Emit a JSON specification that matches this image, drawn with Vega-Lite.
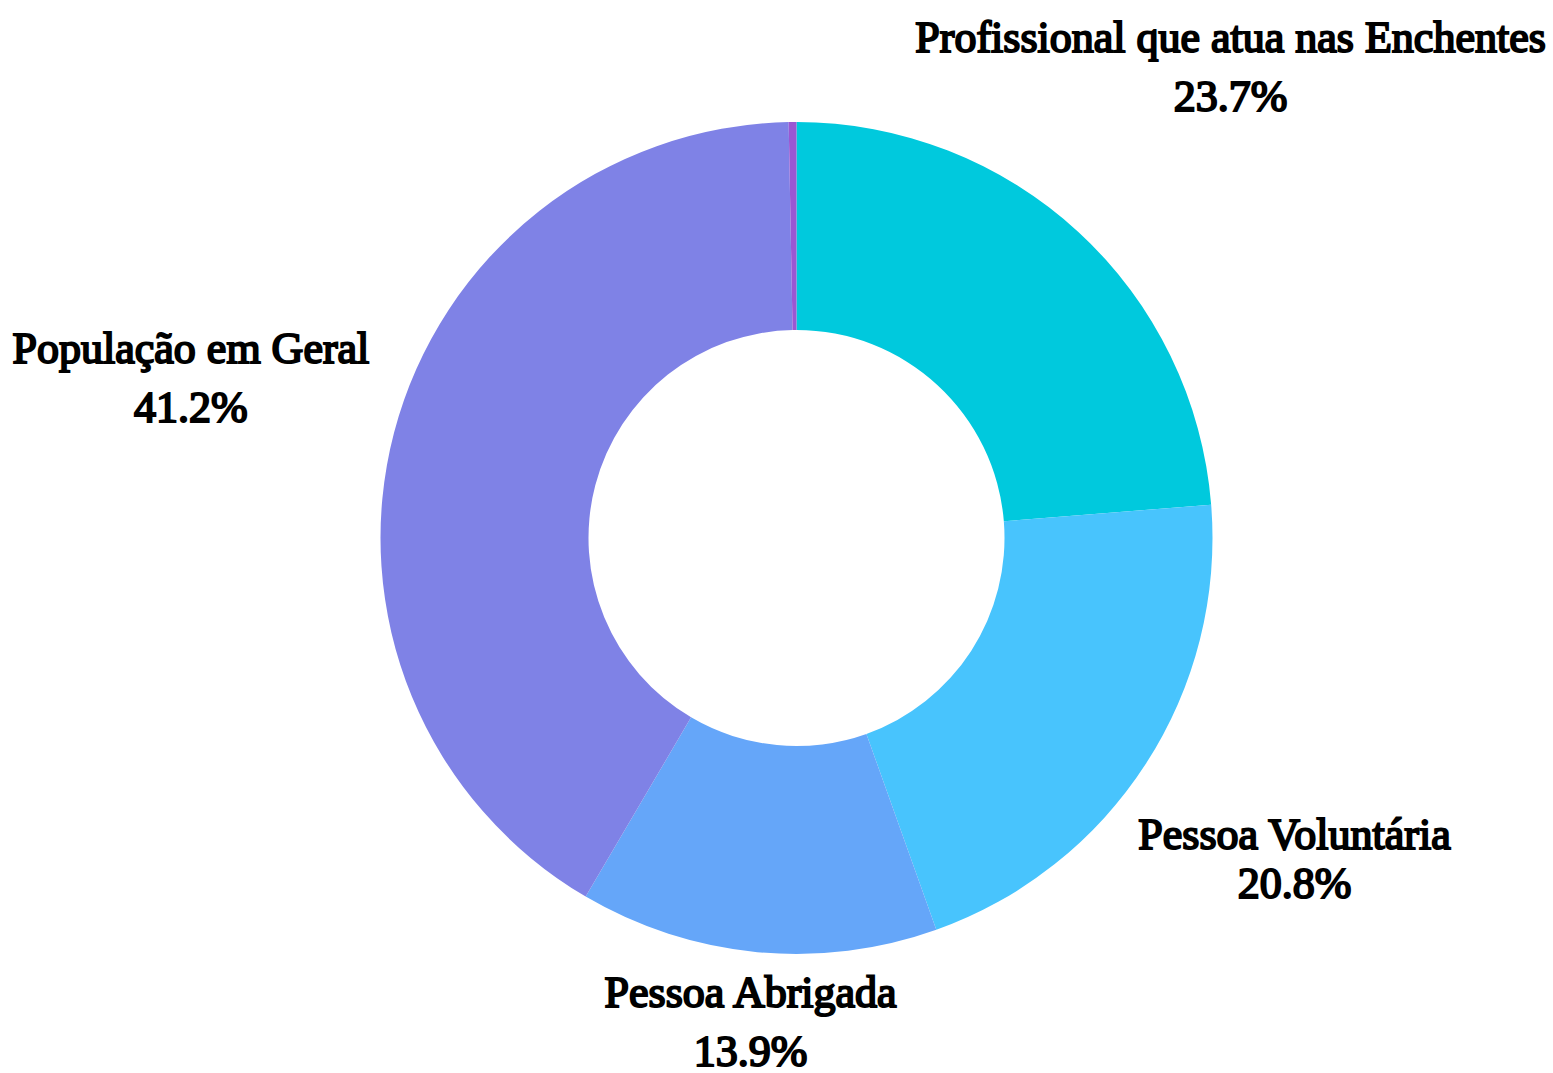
{
  "$schema": "https://vega.github.io/schema/vega-lite/v6.json",
  "width": 1513,
  "height": 1070,
  "autosize": "none",
  "padding": {"left": 40, "top": 3, "right": 0, "bottom": 0},
  "background": "white",
  "view": {"stroke": null},
  "data": {
    "values": [
      {"categoria": "Profissional que atua nas Enchentes", "pct": 23.7, "ordem": 1},
      {"categoria": "Pessoa Voluntária", "pct": 20.8, "ordem": 2},
      {"categoria": "Pessoa Abrigada", "pct": 13.9, "ordem": 3},
      {"categoria": "População em Geral", "pct": 41.2, "ordem": 4},
      {"categoria": "Outro", "pct": 0.3, "ordem": 5}
    ]
  },
  "encoding": {
    "theta": {"field": "pct", "type": "quantitative", "stack": true},
    "order": {"field": "ordem", "type": "quantitative", "sort": "ascending"}
  },
  "layer": [
    {
      "mark": {"type": "arc", "innerRadius": 208, "outerRadius": 416},
      "encoding": {
        "color": {
          "field": "categoria",
          "type": "nominal",
          "scale": {
            "domain": ["Profissional que atua nas Enchentes", "Pessoa Voluntária", "Pessoa Abrigada", "População em Geral", "Outro"],
            "range": ["#00C9DD", "#48C4FD", "#65A6F9", "#7F82E6", "#9B57D3"]
          },
          "legend": null
        }
      }
    },
    {
      "transform": [
        {"filter": "datum.ordem < 5"},
        {"calculate": "datum.categoria + '\\n' + format(datum.pct, '.1f') + '%'", "as": "rotulo"}
      ],
      "mark": {
        "type": "text",
        "font": "Liberation Serif",
        "fontWeight": "normal",
        "fontSize": 44,
        "align": "center",
        "baseline": "middle",
        "lineBreak": "\n",
        "lineHeight": {"expr": "datum.ordem == 2 ? 49 : 59"},
        "dy": {"expr": "datum.ordem == 2 ? -24 : -29"},
        "radius": {"expr": "datum.ordem == 1 ? 640 : datum.ordem == 2 ? 593 : datum.ordem == 3 ? 487 : 626"},
        "color": "black",
        "stroke": "black",
        "strokeWidth": 2
      },
      "encoding": {
        "text": {"field": "rotulo", "type": "nominal"}
      }
    }
  ]
}
